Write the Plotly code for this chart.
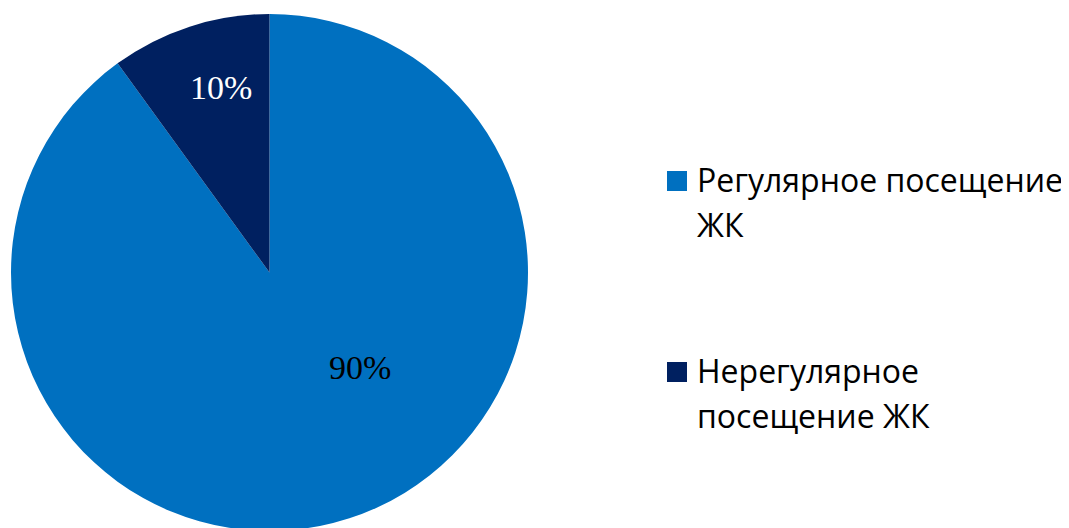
import plotly.graph_objects as go

# данные диаграммы
labels = ["Регулярное посещение ЖК", "Нерегулярное посещение ЖК"]
legend_lines = [["Регулярное посещение", "ЖК"], ["Нерегулярное", "посещение ЖК"]]
values = [90, 10]
colors = ["#0070C0", "#002060"]
text_colors = ["#000000", "#FFFFFF"]

W, H = 1069, 528
PAD = 8  # отступ body в браузере


def px(x):
    return (x - PAD) / W


def py(y):
    return 1 - (y - PAD) / H


# центр и радиус круга в пикселях страницы
cx, cy, R = 269.5, 272.5, 258.5
# положение подписей относительно центра (в долях радиуса)
label_offsets = [(0.352, 0.366), (-0.186, -0.714)]

fig = go.Figure()

fig.add_trace(go.Pie(
    labels=labels,
    values=values,
    sort=False,
    direction="clockwise",
    rotation=0,
    marker=dict(colors=colors, line=dict(width=0)),
    textinfo="none",
    hoverinfo="skip",
    showlegend=False,
    domain=dict(x=[px(cx - R), px(cx + R)], y=[py(cy + R), py(cy - R)]),
))

total = sum(values)
for i, v in enumerate(values):
    dx, dy = label_offsets[i]
    fig.add_annotation(
        text=f"{round(100 * v / total)}%", xref="paper", yref="paper",
        x=px(cx + dx * R), y=py(cy + dy * R),
        xanchor="center", yanchor="middle", showarrow=False,
        font=dict(family="Liberation Serif", size=34, color=text_colors[i]),
    )

# легенда вручную (квадрат + подписи в две строки)
legend_top = [171, 362]
line_step = 45
for i, lines in enumerate(legend_lines):
    y0 = legend_top[i]
    fig.add_shape(
        type="rect", xref="paper", yref="paper",
        x0=px(667), x1=px(687), y0=py(y0), y1=py(y0 + 20),
        fillcolor=colors[i], line=dict(width=0),
    )
    for j, line in enumerate(lines):
        fig.add_annotation(
            text=line, xref="paper", yref="paper",
            x=px(695), y=py(y0 + 8 + j * line_step),
            xanchor="left", yanchor="middle", showarrow=False,
            font=dict(family="Open Sans", size=32, color="#000000"),
        )

fig.update_layout(
    width=W, height=H,
    margin=dict(l=0, r=0, t=0, b=0),
    paper_bgcolor="white",
    plot_bgcolor="white",
)

fig.write_html("out.html")
